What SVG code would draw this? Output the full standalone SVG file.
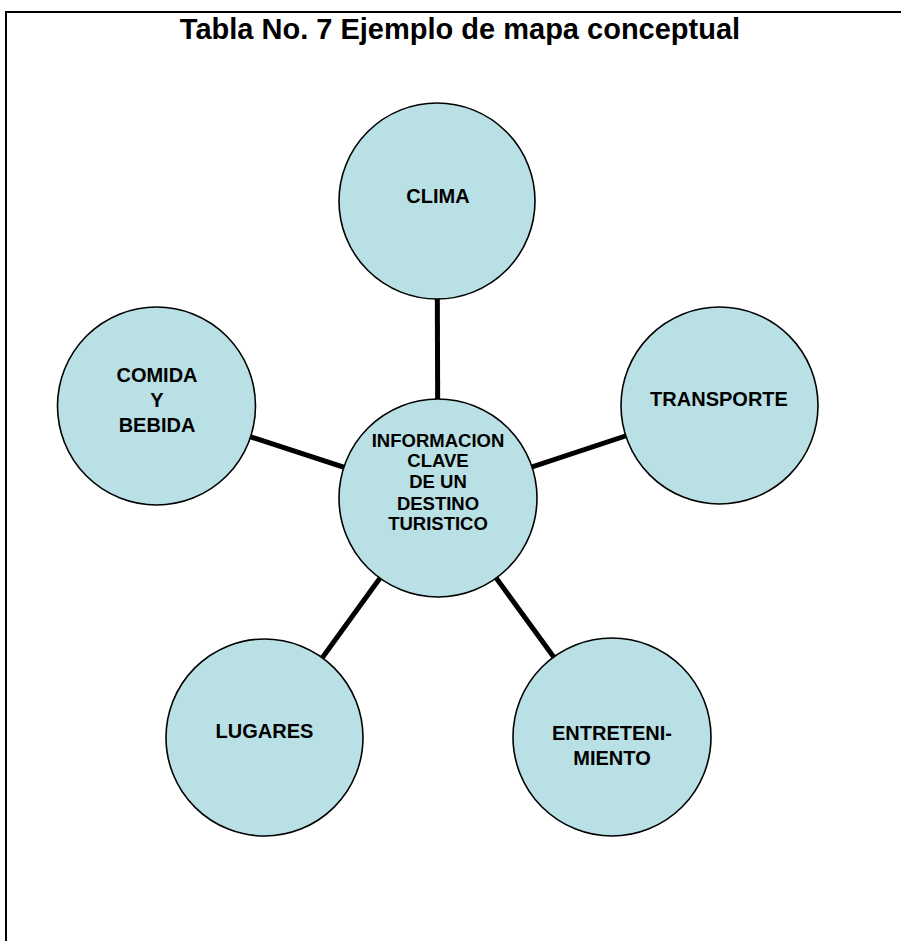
<svg xmlns="http://www.w3.org/2000/svg" width="901" height="941" viewBox="0 0 901 941">
<style>
.node circle{fill:#b9e0e4;stroke:#000;stroke-width:1.6}
.node text{font-family:"Liberation Sans",Arial,sans-serif;font-weight:bold;font-size:20px;text-anchor:middle;fill:#000}
#center text{font-size:18.5px}
.conn line{stroke:#000;stroke-width:5}
.title{font-family:"Liberation Sans",Arial,sans-serif;font-weight:bold;font-size:29px;text-anchor:middle;fill:#000}
</style>
<rect width="901" height="941" fill="#fff"/>
<g id="border" stroke="#000" stroke-width="2" fill="none">
<line x1="5" y1="12" x2="901" y2="12"/>
<line x1="6" y1="11" x2="6" y2="941"/>
</g>
<text class="title" x="460" y="39">Tabla No. 7 Ejemplo de mapa conceptual</text>
<g class="conn" id="connectors">
<line x1="437" y1="201" x2="438" y2="498"/>
<line x1="719" y1="405" x2="438" y2="498"/>
<line x1="156" y1="406" x2="438" y2="498"/>
<line x1="264.5" y1="737.5" x2="438" y2="498"/>
<line x1="612" y1="737" x2="438" y2="498"/>
</g>
<g class="node" id="clima">
<circle cx="437" cy="201" r="98"/>
<text x="438" y="203">CLIMA</text>
</g>
<g class="node" id="transporte">
<circle cx="719.5" cy="405.5" r="98.5"/>
<text x="719" y="406">TRANSPORTE</text>
</g>
<g class="node" id="comida">
<circle cx="156.5" cy="406" r="99"/>
<text x="157" y="382">COMIDA</text>
<text x="157" y="407">Y</text>
<text x="157" y="432">BEBIDA</text>
</g>
<g class="node" id="lugares">
<circle cx="264.5" cy="737.5" r="98.5"/>
<text x="264.5" y="738">LUGARES</text>
</g>
<g class="node" id="entretenimiento">
<circle cx="612" cy="737" r="99"/>
<text x="612" y="740">ENTRETENI-</text>
<text x="612" y="765">MIENTO</text>
</g>
<g class="node" id="center">
<circle cx="438" cy="498" r="99"/>
<text x="438" y="447">INFORMACION</text>
<text x="438" y="467">CLAVE</text>
<text x="438" y="488">DE UN</text>
<text x="438" y="510">DESTINO</text>
<text x="438" y="530">TURISTICO</text>
</g>
</svg>
